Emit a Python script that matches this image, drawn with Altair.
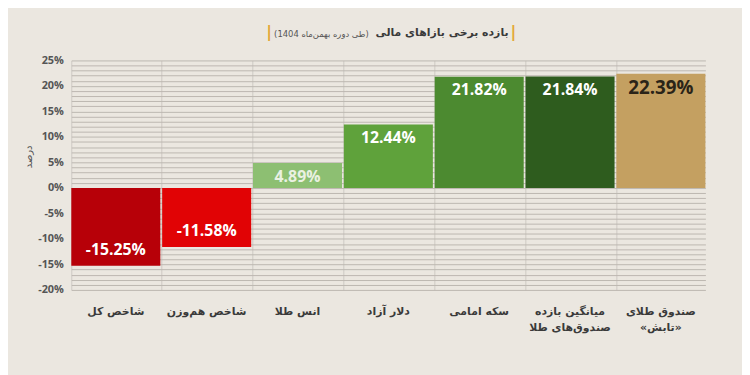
import altair as alt
import pandas as pd

# ---- data ----
categories = ["شاخص کل", "شاخص هم‌وزن", "انس طلا", "دلار آزاد", "سکه امامی",
              "میانگین بازده\nصندوق‌های طلا", "صندوق طلای\n«تابش»"]
values = [-15.25, -11.58, 4.89, 12.44, 21.82, 21.84, 22.39]
labels = ["-15.25%", "-11.58%", "4.89%", "12.44%", "21.82%", "21.84%", "22.39%"]
y_ticks = list(range(-20, 26))

title_main = "بازده برخی بازاهای مالی"
title_sub = "(طی دوره بهمن‌ماه 1404)"
y_title = "درصد"

# ---- styles ----
bar_colors = ["#b70008", "#e10305", "#8dbf72", "#5fa23b", "#4c8a30", "#2e5c1e", "#c4a061"]
PERSIAN = "DejaVu Sans"
NUM = "Open Sans"
RLE, PDF = "\u202b", "\u202c"

df = pd.DataFrame({"cat": categories, "value": values, "label": labels})

x = alt.X("cat:N", sort=None, title=None,
          scale=alt.Scale(domain=categories, paddingInner=0.02, paddingOuter=0),
          axis=alt.Axis(labelExpr="split(datum.label, '\\n')", labelAngle=0,
                        labelFont=PERSIAN, labelFontWeight="bold", labelFontSize=11,
                        labelColor="#3a3a3a", labelPadding=16, labelLineHeight=16,
                        ticks=False, domain=False, grid=True, bandPosition=0,
                        gridColor="#cdc9c3", gridWidth=1, labelBaseline="top"))

y = alt.Y("value:Q", title=y_title,
          scale=alt.Scale(domain=[-20, 25], nice=False),
          axis=alt.Axis(values=y_ticks, tickCount=len(y_ticks), labelOverlap=False,
                        labelExpr="datum.value % 5 == 0 ? datum.value + '%' : ''",
                        labelFont=NUM, labelFontWeight="bold", labelFontSize=11,
                        labelColor="#555", labelPadding=8, ticks=False, domain=False,
                        grid=True, gridColor="#bcb7b0", gridWidth=1,
                        titleFont=PERSIAN, titleFontSize=10, titleColor="#555",
                        titleFontWeight="normal", titleX=-38, titleY=97, titleAngle=-90))

bars = alt.Chart(df).mark_bar().encode(
    x=x, y=y,
    color=alt.Color("cat:N", scale=alt.Scale(domain=categories, range=bar_colors), legend=None),
)

txt_color = (alt.when(alt.datum.value > 22).then(alt.value("#2a2418"))
             .when(alt.datum.value < 5).then(alt.value("#eaf1e2"))
             .otherwise(alt.value("#ffffff")))
txt_size = alt.when(alt.datum.value > 22).then(alt.value(19)).otherwise(alt.value(16))

pos_txt = alt.Chart(df).transform_filter(alt.datum.value > 0).mark_text(
    font=NUM, fontWeight="bold", baseline="middle", dy=14
).encode(x=alt.X("cat:N", sort=None), y="value:Q", text="label:N",
         color=txt_color, size=txt_size)

neg_txt = alt.Chart(df).transform_filter(alt.datum.value < 0).mark_text(
    font=NUM, fontWeight="bold", baseline="middle", dy=-16, fontSize=16, color="#ffffff"
).encode(x=alt.X("cat:N", sort=None), y="value:Q", text="label:N")

tdf = pd.DataFrame({"main": [RLE + title_main + PDF], "sub": [RLE + title_sub + PDF], "bar": ["|"]})
t_main = alt.Chart(tdf).mark_text(font=PERSIAN, fontWeight="bold", fontSize=11,
                                  color="#3a3a3a", align="right", baseline="middle").encode(
    x=alt.value(442), y=alt.value(-28), text="main:N")
t_sub = alt.Chart(tdf).mark_text(font=PERSIAN, fontSize=8.5, color="#555",
                                 align="left", baseline="middle").encode(
    x=alt.value(205), y=alt.value(-27), text="sub:N")
t_bar_l = alt.Chart(tdf).mark_text(font=NUM, fontWeight="bold", fontSize=17,
                                   color="#e3a93a", baseline="middle").encode(
    x=alt.value(200), y=alt.value(-29), text="bar:N")
t_bar_r = alt.Chart(tdf).mark_text(font=NUM, fontWeight="bold", fontSize=17,
                                   color="#e3a93a", baseline="middle").encode(
    x=alt.value(447), y=alt.value(-29), text="bar:N")

chart = alt.layer(bars, pos_txt, neg_txt, t_main, t_sub, t_bar_l, t_bar_r).properties(
    width=641, height=232,
    autosize=alt.AutoSizeParams(type="none"),
    padding={"left": 64, "top": 51, "right": 37, "bottom": 84},
    background="#ebe7e0",
).configure_view(stroke=None)

chart.save("out.html", embed_options={"renderer": "svg", "actions": False})
